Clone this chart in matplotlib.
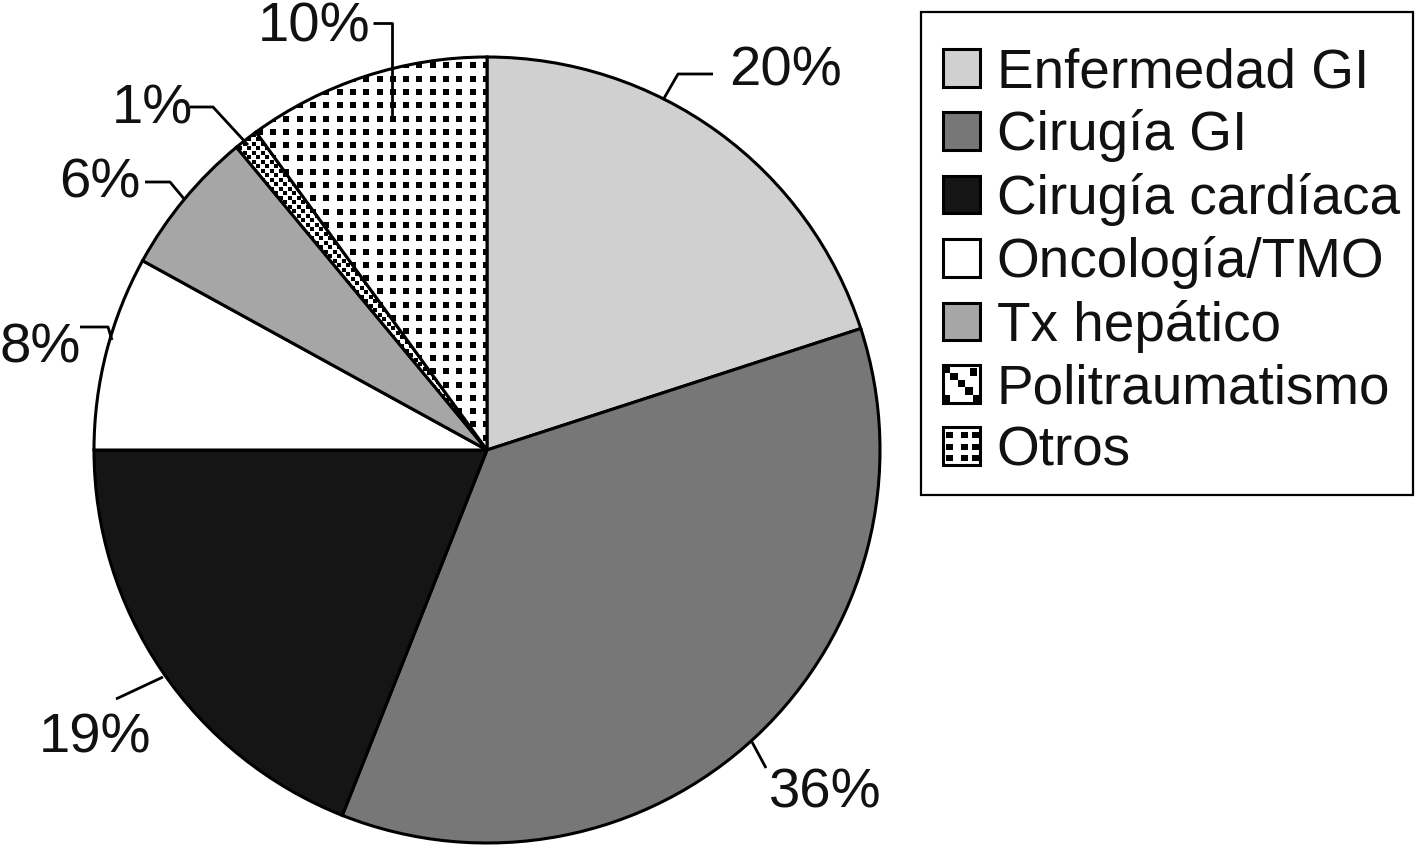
import matplotlib
matplotlib.use('Agg')
import matplotlib.pyplot as plt
from matplotlib.patches import Rectangle, Patch
from matplotlib.legend_handler import HandlerBase
import numpy as np

plt.rcParams['font.family'] = ['Liberation Sans', 'DejaVu Sans']

# datos
categorias = ['Enfermedad GI', 'Cirugía GI', 'Cirugía cardíaca', 'Oncología/TMO',
              'Tx hepático', 'Politraumatismo', 'Otros']
porcentajes = [20, 36, 19, 8, 6, 1, 10]
etiquetas = ['20%', '36%', '19%', '8%', '6%', '1%', '10%']
colores = ['#d0d0d0', '#777777', '#151515', '#ffffff', '#a6a6a6', '#ffffff', '#ffffff']
patrones = [None, None, None, None, None, 'diag', 'dots']

W, H = 1417, 846
FS_ETIQ = 40.5
FS_LEY = 39.5


def px(x, y):
    # coordenadas de pixel (y hacia abajo) -> datos
    return x, H - y


# posicion de textos y lineas guia (en pixeles de la imagen)
pos_texto = [(786, 71), (825, 793), (95, 738), (40, 348), (100, 183), (152, 109), (314, 27)]
guias = [
    [(663, 100), (678, 74), (713, 74)],
    [(752, 742), (766, 768)],
    [(163, 677), (116, 699)],
    [(112, 340), (108, 327), (80, 327)],
    [(185, 200), (170, 182), (145, 182)],
    [(248, 145), (213, 107), (190, 107)],
    [(392, 118), (392, 23), (373, 23)],
]


def pattern_points(kind, x0, y0, x1, y1, step):
    xs = np.arange(x0, x1 + step, step)
    ys = np.arange(y0, y1 + step, step)
    gx, gy = np.meshgrid(xs, ys)
    if kind == 'diag':
        i = np.round((gx - x0) / step).astype(int)
        j = np.round((gy - y0) / step).astype(int)
        keep = (i + j) % 2 == 0
        return gx[keep], gy[keep]
    return gx.ravel(), gy.ravel()


class PatternHandler(HandlerBase):
    def create_artists(self, legend, orig_handle, xdescent, ydescent,
                       width, height, fontsize, trans):
        x0, y0 = -xdescent, -ydescent
        arts = [Rectangle((x0, y0), width, height, facecolor=orig_handle.get_facecolor(),
                          edgecolor='black', linewidth=2.2, transform=trans)]
        kind = getattr(orig_handle, 'pattern', None)
        if kind == 'dots':
            s = width / 5.0
            for cx in [0.5, 2.5, 4.0]:
                for cy in [0.5, 2.0, 3.6]:
                    arts.append(Rectangle((x0 + cx * s - s * 0.05, y0 + cy * s), s * 0.9, s * 0.9,
                                          facecolor='black', edgecolor='none', transform=trans))
        elif kind == 'diag':
            s = width / 5.0
            for k in range(5):
                arts.append(Rectangle((x0 + k * s, y0 + height - (k + 1) * s), s, s,
                                      facecolor='black', edgecolor='none', transform=trans))
            arts.append(Rectangle((x0 + 3.6 * s, y0 + 3.6 * s), s, s,
                                  facecolor='black', edgecolor='none', transform=trans))
            arts.append(Rectangle((x0, y0), s, s,
                                  facecolor='black', edgecolor='none', transform=trans))
        return arts


fig = plt.figure(figsize=(W / 100, H / 100), dpi=100)
ax = fig.add_axes([0, 0, 1, 1])

centro = px(487, 450)
wedges, _ = ax.pie(porcentajes, colors=colores, startangle=90, counterclock=False,
                   center=centro, radius=393, frame=True,
                   wedgeprops=dict(edgecolor='black', linewidth=2.2))

# texturas de los sectores
for w, pat in zip(wedges, patrones):
    if pat is None:
        continue
    step = 13.3 if pat == 'dots' else 4.5
    size = 22 if pat == 'dots' else 9
    xs, ys = pattern_points(pat, centro[0] - 400, centro[1] - 400, centro[0] + 400, centro[1] + 400, step)
    sc = ax.scatter(xs, ys, marker='s', s=size, color='black', linewidths=0, zorder=w.get_zorder() + 0.1)
    sc.set_clip_path(w)

# etiquetas con lineas guia
for txt, (tx, ty), g in zip(etiquetas, pos_texto, guias):
    gx, gy = zip(*[px(a, b) for a, b in g])
    ax.plot(gx, gy, color='black', linewidth=2.0, zorder=5, solid_capstyle='butt')
    ax.text(*px(tx, ty), txt, fontsize=FS_ETIQ, ha='center', va='center', color='#111111')

# marco de la leyenda
ax.add_patch(Rectangle(px(921, 495), 1413 - 921, 495 - 12, facecolor='white',
                       edgecolor='black', linewidth=1.6, zorder=6))

ax.set_xlim(0, W)
ax.set_ylim(0, H)
ax.axis('off')

# leyenda
handles = []
for c, col, pat in zip(categorias, colores, patrones):
    h = Patch(facecolor=col, edgecolor='black', label=c)
    h.pattern = pat
    handles.append(h)

leg = fig.legend(handles=handles, loc='upper left', bbox_to_anchor=(943 / W, 1 - 47 / H),
                 borderaxespad=0, fontsize=FS_LEY, frameon=False,
                 handlelength=0.68, handleheight=0.68, handletextpad=0.3,
                 labelspacing=0.19, borderpad=0,
                 handler_map={Patch: PatternHandler()})
leg.set_zorder(7)
for t in leg.get_texts():
    t.set_color('#111111')

fig.savefig('out.png', dpi=100)
